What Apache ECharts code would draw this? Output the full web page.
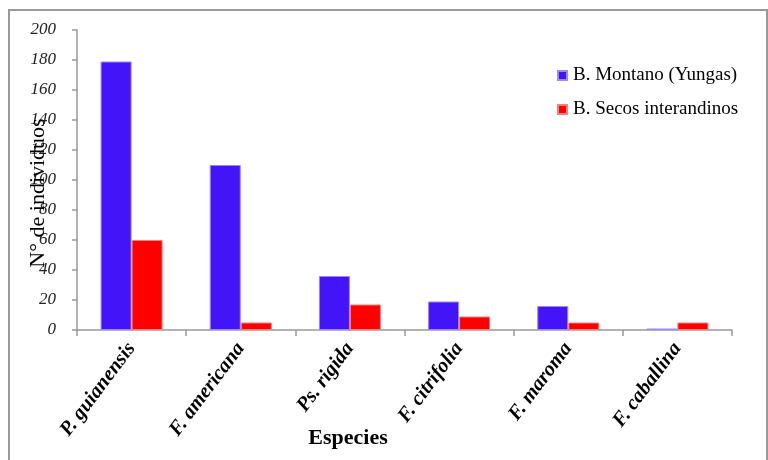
<!DOCTYPE html>
<html>
<head>
<meta charset="utf-8">
<script src="https://cdn.jsdelivr.net/npm/echarts@6/dist/echarts.min.js"></script>
<style>
  html, body { margin: 0; padding: 0; background: #fff; }
  #chart { width: 768px; height: 460px; }
</style>
</head>
<body>
<div id="chart"></div>
<script>
// Species counted in each forest type
const especies = ['P. guianensis', 'F. americana', 'Ps. rigida', 'F. citrifolia', 'F. maroma', 'F. caballina'];
const montano = [179, 110, 36, 19, 16, 1];
const secos = [60, 5, 17, 9, 5, 5];
const serieNombres = ['B. Montano (Yungas)', 'B. Secos interandinos'];

const serif = '"Liberation Serif", "DejaVu Serif", serif';
const chart = echarts.init(document.getElementById('chart'));

chart.setOption({
  animation: false,
  backgroundColor: '#fff',
  grid: { left: 77, right: 36, top: 30, bottom: 130 },
  legend: {
    orient: 'vertical',
    left: 552,
    top: 61,
    itemWidth: 9,
    itemHeight: 9,
    itemGap: 15,
    icon: 'rect',
    textStyle: { fontFamily: serif, fontSize: 19, color: '#000', padding: [0, 0, 0, 1] },
    data: serieNombres
  },
  xAxis: {
    type: 'category',
    data: especies,
    axisLine: { lineStyle: { color: '#999', width: 1.5 } },
    axisTick: { show: true, length: 6, lineStyle: { color: '#999', width: 1.5 } },
    axisLabel: {
      rotate: 53,
      interval: 0,
      margin: 15,
      fontFamily: serif,
      fontSize: 20.5,
      fontStyle: 'italic',
      fontWeight: 'bold',
      color: '#000'
    }
  },
  yAxis: {
    type: 'value',
    min: 0,
    max: 200,
    interval: 20,
    splitLine: { show: false },
    axisLine: { show: true, lineStyle: { color: '#999', width: 1.5 } },
    axisTick: { show: true, length: 5, lineStyle: { color: '#999', width: 1.5 } },
    axisLabel: {
      margin: 21,
      fontFamily: serif,
      fontSize: 17,
      fontStyle: 'italic',
      color: '#222'
    }
  },
  graphic: [
    {
      type: 'rect',
      shape: { x: 9, y: 10, width: 758, height: 460 },
      style: { fill: null, stroke: '#999', lineWidth: 2 },
      silent: true
    },
    {
      // y-axis title, drawn over the tick labels
      type: 'text',
      x: 38,
      y: 193,
      rotation: Math.PI / 2,
      style: {
        text: 'N° de individuos',
        fontFamily: serif,
        fontSize: 22,
        fill: '#000',
        align: 'center',
        verticalAlign: 'middle'
      },
      z: 10
    },
    {
      // x-axis title
      type: 'text',
      x: 348,
      y: 438,
      style: {
        text: 'Especies',
        fontFamily: serif,
        fontSize: 22,
        fontWeight: 'bold',
        fill: '#000',
        align: 'center',
        verticalAlign: 'middle'
      },
      z: 10
    }
  ],
  series: [
    {
      name: serieNombres[0],
      type: 'bar',
      data: montano,
      barWidth: 31,
      barGap: '0%',
      itemStyle: { color: '#4414F8', borderColor: '#9a86ff', borderWidth: 1 }
    },
    {
      name: serieNombres[1],
      type: 'bar',
      data: secos,
      barWidth: 31,
      barGap: '0%',
      itemStyle: { color: '#FF0000', borderColor: '#ff7a7a', borderWidth: 1 }
    }
  ]
});
</script>
</body>
</html>
